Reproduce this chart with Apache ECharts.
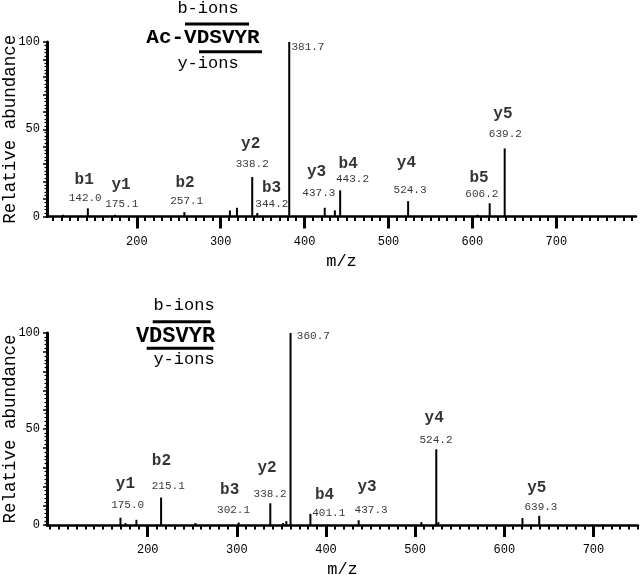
<!DOCTYPE html>
<html>
<head>
<meta charset="utf-8">
<script src="https://cdn.jsdelivr.net/npm/echarts@6/dist/echarts.min.js"></script>
<style>html,body{margin:0;padding:0;background:#fff}#c{width:640px;height:575px}</style>
</head>
<body>
<div id="c"></div>
<script>
// ---- data (m/z, relative abundance) ----
const topPeaks = [[112,1],[141.7,4.7],[174,1],[256.7,2.5],[311,3.5],[319.4,5],[337.6,22.6],[343.6,2],[381.7,100],[424,5],[436.1,3.5],[442.4,15],[523.4,8.8],[606,1],[620.6,7.6],[638.5,39]];
const bottomPeaks = [[169.4,3.8],[175,1],[187.3,2.7],[215,14.3],[253.5,1],[302,1.3],[337.5,11.3],[351.8,1],[355.5,2],[360.2,100],[382.5,5.8],[436.6,2.5],[507,1.5],[523.7,39.4],[526,1.5],[620.4,3.6],[639.2,4.8]];
// annotation anchors in data units: [m/z, abundance, text]
const topIonNames = [[137.3,20.7,'b1'],[181.3,18.2,'y1'],[257.5,19.4,'b2'],[335.7,41.8,'y2'],[360.7,16.3,'b3'],[414.3,25.5,'y3'],[451.9,29.9,'b4'],[521.4,30.6,'y4'],[607.9,22.2,'b5'],[636.4,59.0,'y5']];
const topIonMasses = [[138.5,10.7,'142.0'],[182.1,6.9,'175.1'],[259.5,8.6,'257.1'],[337.6,30.3,'338.2'],[361,6.9,'344.2'],[404,97.3,'381.7'],[417,13.4,'437.3'],[457.1,21.3,'443.2'],[525.7,15.3,'524.3'],[611.3,13.1,'606.2'],[639.3,47.1,'639.2']];
const bottomIonNames = [[175,21.2,'y1'],[215.4,33.5,'b2'],[291.9,18.2,'b3'],[333.9,29.5,'y2'],[398.4,15.6,'b4'],[446,19.9,'y3'],[521.4,55.6,'y4'],[636.5,19.1,'y5']];
const bottomIonMasses = [[177.5,10.4,'175.0'],[223,20.5,'215.1'],[296.3,7.8,'302.1'],[337.3,16.0,'338.2'],[385.8,98.4,'360.7'],[403.1,6.1,'401.1'],[450.6,7.8,'437.3'],[523.4,44.3,'524.2'],[641.1,9.2,'639.3']];
// axis ticks
const xMajorTicks = [200,300,400,500,600,700];
const topMinorTicks = []; for (let v = 100; v <= 790; v += 10) topMinorTicks.push(v);
const bottomMinorTicks = []; for (let v = 90; v <= 750; v += 10) bottomMinorTicks.push(v);
const yTickLabels = [0,50,100];
const topRange = [93,795];
const bottomRange = [87,750];

const MONO = '"Liberation Mono","DejaVu Sans Mono",monospace';

function xAxesFor(gi, range, minor) {
  return [
    { type:'value', gridIndex:gi, position:'bottom', min:range[0], max:range[1],
      axisLine:{show:true, lineStyle:{color:'#000', width:2.5}},
      axisTick:{show:true, customValues:minor, length:4.5, lineStyle:{color:'#000', width:2}},
      axisLabel:{show:false}, splitLine:{show:false},
      name:'m/z', nameLocation:'middle', nameGap:36,
      nameTextStyle:{fontFamily:MONO, fontSize:17, color:'#000'} },
    { type:'value', gridIndex:gi, position:'bottom', min:range[0], max:range[1],
      axisLine:{show:false},
      axisTick:{show:true, customValues:xMajorTicks, length:12, lineStyle:{color:'#000', width:3}},
      axisLabel:{show:true, customValues:xMajorTicks, margin:19, fontFamily:MONO, fontSize:12, color:'#000'},
      splitLine:{show:false} }
  ];
}
function yAxisFor(gi) {
  return { type:'value', gridIndex:gi, min:0, max:100, interval:10,
    axisLine:{show:true, lineStyle:{color:'#000', width:3}},
    axisTick:{show:true, length:4, lineStyle:{color:'#000', width:1.5}},
    minorTick:{show:true, splitNumber:5, length:2.5, lineStyle:{color:'#000', width:1.2}},
    axisLabel:{show:true, customValues:yTickLabels, margin:7, fontFamily:MONO, fontSize:12, color:'#000', padding:[0,0,4,0]},
    splitLine:{show:false}, minorSplitLine:{show:false},
    name:'Relative abundance', nameLocation:'middle', nameGap:37, nameMoveOverlap:false,
    nameTextStyle:{fontFamily:MONO, fontSize:17.5, color:'#000', verticalAlign:'middle'} };
}
function peakSeries(data, xi, yi) {
  return { type:'bar', xAxisIndex:xi, yAxisIndex:yi, data:data, barWidth:2,
    itemStyle:{color:'#000'}, silent:true, animation:false };
}
function labelSeries(data, xi, yi, bold) {
  return { type:'scatter', xAxisIndex:xi, yAxisIndex:yi, data:data, symbolSize:1,
    itemStyle:{color:'rgba(0,0,0,0)'}, silent:true, animation:false, clip:false,
    label:{show:true, position:'inside', formatter:p => p.data[2], color:'#000',
      fontFamily:MONO, fontSize: bold ? 16 : 11, fontWeight: bold ? 'bold' : 'normal'} };
}
function seqGraphics(cx, bY, seqText, seqX, seqY, seqSize, line1, line2, yY) {
  const ts = {fontFamily:MONO, fontSize:17, fill:'#000', textAlign:'center', textVerticalAlign:'middle'};
  return [
    {type:'text', x:cx, y:bY, style:Object.assign({text:'b-ions'}, ts)},
    {type:'line', shape:{x1:line1[0], y1:line1[2], x2:line1[1], y2:line1[2]}, style:{stroke:'#000', lineWidth:3}},
    {type:'text', x:seqX, y:seqY, style:{text:seqText, fontFamily:MONO, fontSize:seqSize, fontWeight:'bold', fill:'#000', textAlign:'center', textVerticalAlign:'middle'}},
    {type:'line', shape:{x1:line2[0], y1:line2[2], x2:line2[1], y2:line2[2]}, style:{stroke:'#000', lineWidth:3}},
    {type:'text', x:cx, y:yY, style:Object.assign({text:'y-ions'}, ts)}
  ];
}

const chart = echarts.init(document.getElementById('c'), null, {renderer:'canvas'});
chart.setOption({
  backgroundColor:'#fff',
  animation:false,
  grid:[
    {left:47, right:4, top:42, bottom:358.5, containLabel:false, outerBoundsMode:'none'},
    {left:47, right:2, top:333, bottom:50, containLabel:false, outerBoundsMode:'none'}
  ],
  xAxis: xAxesFor(0, topRange, topMinorTicks).concat(xAxesFor(1, bottomRange, bottomMinorTicks)),
  yAxis: [yAxisFor(0), yAxisFor(1)],
  series:[
    peakSeries(topPeaks, 0, 0),
    peakSeries(bottomPeaks, 2, 1),
    labelSeries(topIonNames, 0, 0, true),
    labelSeries(topIonMasses, 0, 0, false),
    labelSeries(bottomIonNames, 2, 1, true),
    labelSeries(bottomIonMasses, 2, 1, false)
  ],
  graphic: seqGraphics(208, 8, 'Ac-VDSVYR', 203, 37.5, 21, [185,249,24], [199,262,51.7], 63)
    .concat(seqGraphics(184, 305, 'VDSVYR', 175.5, 336, 22, [152.7,210.7,321.7], [146.7,213.3,348.3], 359))
});
</script>
</body>
</html>
